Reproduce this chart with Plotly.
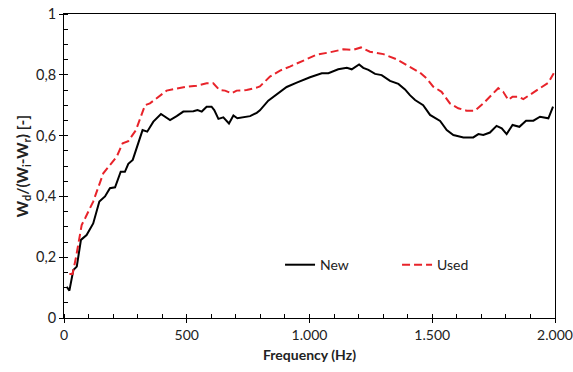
import plotly.graph_objects as go

freq_new = [11, 22, 38, 52, 69, 92, 119, 144, 167, 187, 208, 231, 248, 262, 280, 296, 320, 339, 364, 395,
            432, 459, 486, 527, 544, 561, 581, 601, 612, 629, 649, 672, 690, 706, 724, 758, 785, 798, 832, 870,
            907, 948, 1002, 1050, 1077, 1117, 1152, 1172, 1185, 1202, 1219, 1240, 1267, 1294, 1328, 1362, 1389, 1409, 1430, 1463,
            1491, 1532, 1559, 1586, 1627, 1667, 1688, 1708, 1735, 1762, 1783, 1803, 1827, 1855, 1882, 1912, 1939, 1973, 1992]
val_new = [0.103, 0.090, 0.158, 0.169, 0.257, 0.273, 0.311, 0.383, 0.400, 0.427, 0.430, 0.481, 0.481, 0.507, 0.520, 0.560, 0.618, 0.613, 0.646, 0.671,
           0.651, 0.664, 0.679, 0.680, 0.684, 0.679, 0.695, 0.695, 0.684, 0.655, 0.660, 0.640, 0.666, 0.657, 0.660, 0.664, 0.675, 0.683, 0.715, 0.738,
           0.760, 0.774, 0.792, 0.805, 0.805, 0.818, 0.823, 0.818, 0.825, 0.834, 0.823, 0.816, 0.803, 0.799, 0.780, 0.770, 0.752, 0.733, 0.717, 0.700,
           0.668, 0.648, 0.618, 0.602, 0.594, 0.594, 0.605, 0.602, 0.610, 0.632, 0.624, 0.605, 0.635, 0.629, 0.649, 0.649, 0.662, 0.657, 0.695]

freq_used = [22, 35, 49, 72, 86, 119, 160, 187, 215, 239, 262, 293, 310, 330, 350, 377, 418, 459, 500, 540,
             581, 608, 633, 656, 683, 703, 744, 785, 798, 839, 880, 920, 975, 1029, 1083, 1138, 1178, 1210, 1246, 1301,
             1355, 1409, 1450, 1477, 1504, 1538, 1572, 1606, 1640, 1674, 1708, 1742, 1769, 1789, 1810, 1827, 1851, 1871, 1905, 1939,
             1973, 1995]
val_used = [0.145, 0.145, 0.200, 0.306, 0.328, 0.383, 0.476, 0.503, 0.531, 0.575, 0.582, 0.618, 0.657, 0.700, 0.706, 0.723, 0.748, 0.755, 0.761, 0.764,
            0.772, 0.772, 0.750, 0.748, 0.739, 0.748, 0.750, 0.758, 0.762, 0.794, 0.814, 0.827, 0.846, 0.866, 0.874, 0.884, 0.882, 0.890, 0.876, 0.868,
            0.851, 0.826, 0.807, 0.788, 0.761, 0.744, 0.706, 0.690, 0.682, 0.682, 0.706, 0.734, 0.756, 0.744, 0.717, 0.728, 0.728, 0.720, 0.739, 0.756,
            0.774, 0.805]

FONT = "Lato"

fig = go.Figure()
fig.add_trace(go.Scatter(x=freq_new, y=val_new, mode="lines", name="New",
                         line=dict(color="black", width=2)))
fig.add_trace(go.Scatter(x=freq_used, y=val_used, mode="lines", name="Used",
                         line=dict(color="#E8232A", width=2, dash="8px,4px")))
# invisible helper trace so the overlay axes (inner half of the crossing major ticks) are drawn
fig.add_trace(go.Scatter(x=[None], y=[None], xaxis="x2", yaxis="y2", showlegend=False,
                         hoverinfo="skip"))

fig.update_layout(
    width=573, height=372,
    margin=dict(l=64, r=18, t=14, b=54, autoexpand=False),
    paper_bgcolor="white", plot_bgcolor="white",
    separators=",.",
    font=dict(family=FONT, size=14.5, color="#222"),
    showlegend=True,
    legend=dict(orientation="h", x=0.44, y=0.174, xanchor="left", yanchor="middle",
                bgcolor="rgba(0,0,0,0)", font=dict(size=14, color="#222"),
                itemwidth=30, entrywidth=72, entrywidthmode="pixels"),
    xaxis=dict(range=[0, 2000], dtick=500, tickformat=",d", ticks="outside", ticklen=4,
               tickcolor="black", showline=True, linecolor="black", linewidth=1, mirror=True,
               showgrid=False, zeroline=False, tickfont=dict(size=14),
               minor=dict(dtick=100, ticks="inside", ticklen=4, tickcolor="black", showgrid=False),
               title=dict(text="<b>Frequency (Hz)</b>", font=dict(size=14, color="#222"), standoff=8)),
    yaxis=dict(range=[0, 1], dtick=0.2, ticks="outside", ticklen=4, tickcolor="black",
               showline=True, linecolor="black", linewidth=1, mirror=True,
               showgrid=False, zeroline=False,
               minor=dict(dtick=0.05, ticks="inside", ticklen=4, tickcolor="black", showgrid=False),
               title=dict(text="<b>W<sub>d</sub>/(W<sub>i</sub>-W<sub>r</sub>) [-]</b>",
                          font=dict(size=15.5, color="#222"), standoff=3)),
    xaxis2=dict(range=[0, 2000], overlaying="x", anchor="y", side="bottom", dtick=500,
                ticks="inside", ticklen=4, tickcolor="black", showticklabels=False,
                showgrid=False, zeroline=False, showline=False),
    yaxis2=dict(range=[0, 1], overlaying="y", anchor="x", side="left", dtick=0.2,
                ticks="inside", ticklen=4, tickcolor="black", showticklabels=False,
                showgrid=False, zeroline=False, showline=False),
)

fig.write_html("out.html")
